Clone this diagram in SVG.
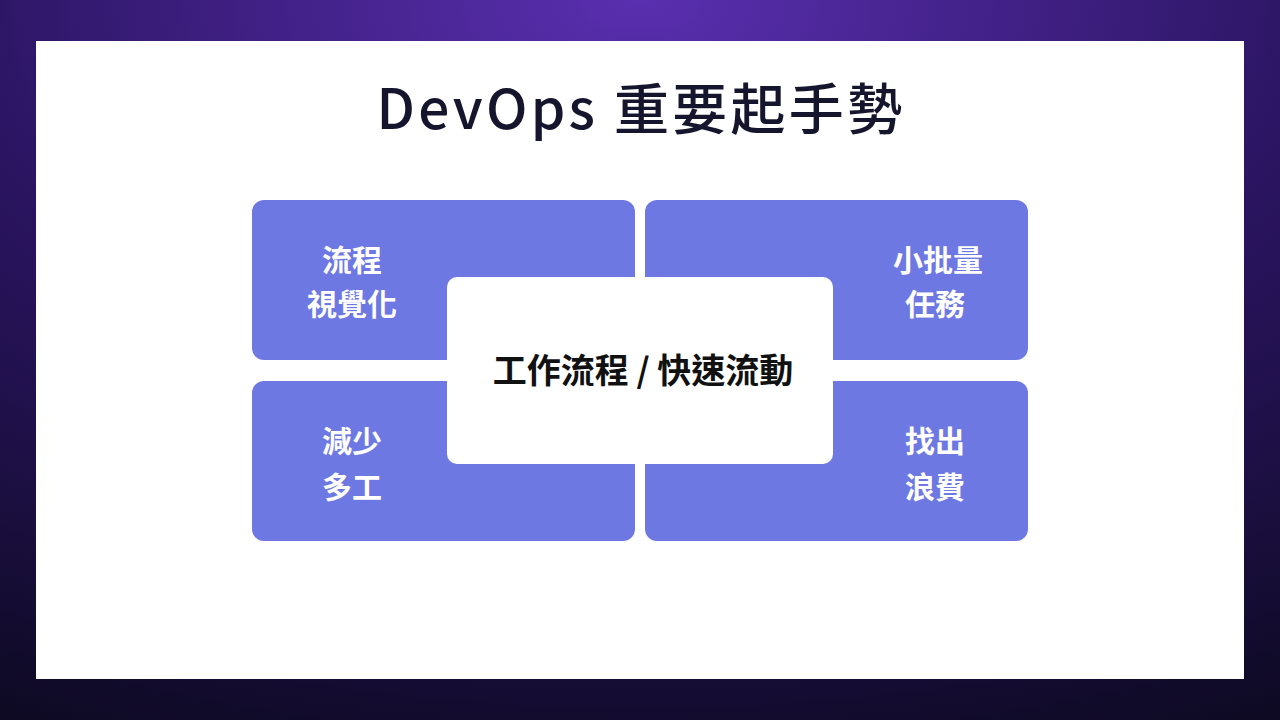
<svg xmlns="http://www.w3.org/2000/svg" width="1280" height="720" viewBox="0 0 1280 720">
<defs>
<radialGradient id="bg" cx="50%" cy="0%" r="110%">
<stop offset="0" stop-color="#5a2fb0"/>
<stop offset="0.5" stop-color="#2a1460"/>
<stop offset="1" stop-color="#0e0a24"/>
</radialGradient>
<style>
.q{fill:#6e78e2}
.t{font-family:"Noto Sans CJK TC","Noto Sans",sans-serif;font-weight:bold;font-size:30px;fill:#fff;text-anchor:middle}
</style>
</defs>
<rect width="1280" height="720" fill="url(#bg)"/>
<rect x="36" y="41" width="1208" height="638" fill="#fff"/>
<text x="641" y="129" text-anchor="middle" font-family="'Noto Sans CJK TC','Noto Sans',sans-serif" font-weight="500" font-size="55" fill="#15152e" letter-spacing="3.3">DevOps 重要起手勢</text>
<g id="n1"><rect class="q" x="252" y="200" width="383" height="160" rx="12"/><text class="t" x="352" y="271">流程</text><text class="t" x="352" y="315">視覺化</text></g>
<g id="n2"><rect class="q" x="645" y="200" width="383" height="160" rx="12"/><text class="t" x="938" y="271">小批量</text><text class="t" x="935" y="315">任務</text></g>
<g id="n3"><rect class="q" x="252" y="381" width="383" height="160" rx="12"/><text class="t" x="352" y="452">減少</text><text class="t" x="352" y="498">多工</text></g>
<g id="n4"><rect class="q" x="645" y="381" width="383" height="160" rx="12"/><text class="t" x="935" y="452">找出</text><text class="t" x="935" y="498">浪費</text></g>
<g id="center"><rect x="447" y="277" width="386" height="187" rx="10" fill="#fff"/><text x="643" y="383" text-anchor="middle" font-family="'Noto Sans CJK TC','Noto Sans',sans-serif" font-weight="bold" font-size="34" fill="#111">工作流程 / 快速流動</text></g>
<g id="connectors"/>
</svg>
